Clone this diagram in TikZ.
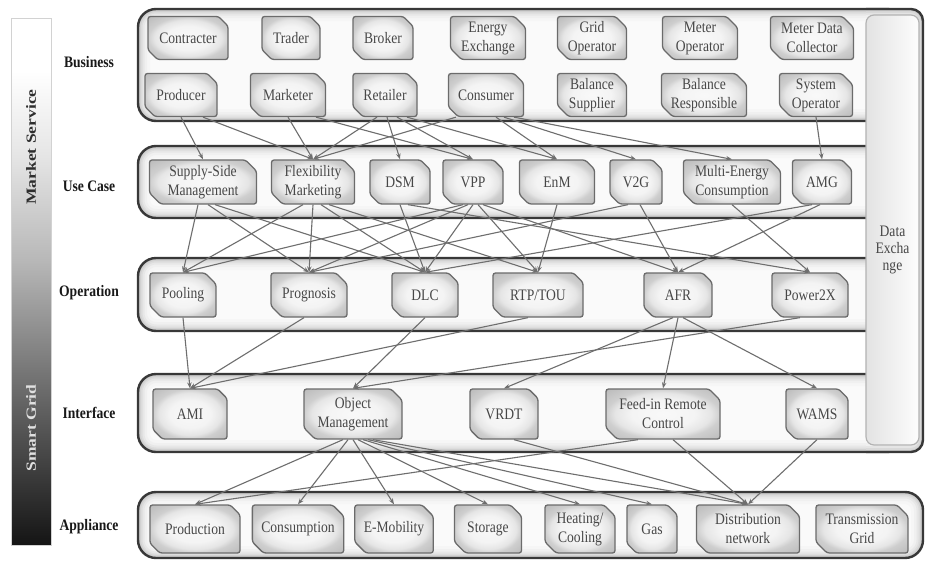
\documentclass[tikz,border=0pt]{standalone}
\usepackage{fontspec}
\setmainfont{Liberation Serif}[FakeStretch=0.85]
\newfontfamily\barfont{Liberation Serif}[FakeStretch=1.25]
\usetikzlibrary{shapes.misc,arrows.meta,calc}
\definecolor{edgec}{HTML}{6E6E6E}
\pgfdeclareradialshading{boxsh}{\pgfpoint{0bp}{0bp}}{color(0bp)=(gray!5); color(14bp)=(gray!9); color(21bp)=(gray!20); color(25bp)=(gray!38); color(36bp)=(gray!55); color(50bp)=(gray!55)}
\pgfdeclareverticalshading{barsh}{100bp}{color(0bp)=(black!92); color(25bp)=(black!92); color(38bp)=(black!62); color(52bp)=(black!28); color(62bp)=(black!10); color(70bp)=(white); color(100bp)=(white)}
\newcommand\boxfont{\rmfamily\fontsize{16}{19}\selectfont}
\newcommand\drawband[4]{%
  \begin{scope}
    \clip[rounded corners=18pt] (#1,#2) rectangle (#3,#4);
    \fill[gray!4] (#1,#2) rectangle (#3,#4);
    \foreach \w/\c in {24/7,18/12,13/19,9/27,6/36,3/46}
      {\draw[line width=\w pt, gray!\c, rounded corners=18pt] (#1,#2) rectangle (#3,#4);}
  \end{scope}
  \draw[line width=2.4pt, black!78, rounded corners=18pt] (#1,#2) rectangle (#3,#4);
}
\tikzset{
  bx/.style={chamfered rectangle, chamfered rectangle corners={north east,south west},
    chamfered rectangle xsep=8pt, rounded corners=2.5pt, draw=black!58, line width=1.3pt,
    shade, shading=boxsh, text=black!72, font=\boxfont, align=center, inner sep=1pt},
  bb/.style={bx, minimum height=43pt},
  ub/.style={bx, minimum height=44pt},
  ob/.style={bx, minimum height=44pt},
  ib/.style={bx, minimum height=50pt},
  ab/.style={bx, minimum height=48pt},
  lay/.style={font=\rmfamily\bfseries\fontsize{16}{19}\selectfont, text=black!90},
  barlab/.style={font=\barfont\bfseries\fontsize{14}{16}\selectfont, rotate=90},
  arr/.style={draw=edgec, line width=1.1pt, -{Stealth[length=6pt,width=4.5pt]}}
}
\begin{document}
\begin{tikzpicture}[x=1pt,y=-1pt]
\useasboundingbox (0,0) rectangle (925,562);
\fill[white] (0,0) rectangle (925,562);
% left bar
\shade[shading=barsh, draw=gray!35, line width=0.5pt] (11,18) rectangle (51,545);
\node[barlab, text=black!82] (ms) at (31,147) {Market Service};
\node[barlab, text=white!88!black] (sg) at (31,428) {Smart Grid};
% bands
\drawband{138}{9}{905}{121}
\drawband{138}{146}{905}{218}
\drawband{138}{258}{905}{331}
\drawband{138}{374}{905}{452}
\drawband{138}{492}{923}{558}
% right column of frame
\begin{scope}
  \clip (866,9) -- (911,9) arc[start angle=90,end angle=0,radius=12pt] -- (923,440) arc[start angle=0,end angle=-90,radius=12pt] -- (866,452) -- cycle;
  \fill[gray!6] (860,5) rectangle (930,460);
  \foreach \w/\c in {18/12,12/20,8/30,4/44}
    {\draw[line width=\w pt, gray!\c] (866,9) -- (911,9) arc[start angle=90,end angle=0,radius=12pt] -- (923,440) arc[start angle=0,end angle=-90,radius=12pt] -- (866,452);}
\end{scope}
\draw[line width=2.4pt, black!78] (866,9) -- (911,9) arc[start angle=90,end angle=0,radius=12pt] -- (923,440) arc[start angle=0,end angle=-90,radius=12pt] -- (866,452);
\shadedraw[rounded corners=8pt, left color=gray!22, right color=gray!2, draw=gray!60, line width=1.2pt] (866,15) rectangle (919,445);
\node[font=\rmfamily\fontsize{16}{17}\selectfont, text=black!72, align=center] (de) at (892.5,250) {Data\\Excha\\nge};
% layer labels
\node[lay] (lbus) at (89,62) {Business};
\node[lay] (luc) at (89,186) {Use Case};
\node[lay] (lop) at (89,293) {Operation};
\node[lay] (lif) at (89,413) {Interface};
\node[lay] (lap) at (89,527) {Appliance};
% business
\node[bb, minimum width=80pt] (contr) at (188,38) {Contracter};
\node[bb, minimum width=58pt] (trader) at (291,38) {Trader};
\node[bb, minimum width=60pt] (broker) at (383,38) {Broker};
\node[bb, minimum width=75pt] (enex) at (488,38) {Energy\\Exchange};
\node[bb, minimum width=69pt] (gridop) at (592,38) {Grid\\Operator};
\node[bb, minimum width=75pt] (metop) at (700,38) {Meter\\Operator};
\node[bb, minimum width=83pt] (mdc) at (812,38) {Meter Data\\Collector};
\node[bb, minimum width=72pt] (prod) at (181,95) {Producer};
\node[bb, minimum width=75pt] (mark) at (288,95) {Marketer};
\node[bb, minimum width=64pt] (ret) at (385,95) {Retailer};
\node[bb, minimum width=75pt] (cons) at (486,95) {Consumer};
\node[bb, minimum width=69pt] (bsup) at (592,95) {Balance\\Supplier};
\node[bb, minimum width=85pt] (bresp) at (704,95) {Balance\\Responsible};
\node[bb, minimum width=73pt] (sysop) at (816,95) {System\\Operator};
% use case
\node[ub, minimum width=107pt] (supply) at (203,182) {Supply-Side\\Management};
\node[ub, minimum width=83pt] (flex) at (313,182) {Flexibility\\Marketing};
\node[ub, minimum width=60pt] (dsm) at (400,182) {DSM};
\node[ub, minimum width=60pt] (vpp) at (473,182) {VPP};
\node[ub, minimum width=75pt] (enm) at (557,182) {EnM};
\node[ub, minimum width=52pt] (v2g) at (636,182) {V2G};
\node[ub, minimum width=97pt] (multi) at (732,182) {Multi-Energy\\Consumption};
\node[ub, minimum width=59pt] (amg) at (822,182) {AMG};
% operation
\node[ob, minimum width=66pt] (pool) at (183,295) {Pooling};
\node[ob, minimum width=76pt] (prog) at (309,295) {Prognosis};
\node[ob, minimum width=66pt] (dlc) at (425,295) {DLC};
\node[ob, minimum width=90pt] (rtp) at (538,295) {RTP/TOU};
\node[ob, minimum width=68pt] (afr) at (678,295) {AFR};
\node[ob, minimum width=76pt] (power) at (810,295) {Power2X};
% interface
\node[ib, minimum width=74pt] (ami) at (190,414) {AMI};
\node[ib, minimum width=98pt] (objm) at (353,414) {Object\\Management};
\node[ib, minimum width=68pt] (vrdt) at (504,414) {VRDT};
\node[ib, minimum width=114pt] (feed) at (663,414) {Feed-in Remote\\Control};
\node[ib, minimum width=62pt] (wams) at (817,414) {WAMS};
% appliance
\node[ab, minimum width=90pt] (prodn) at (195,529) {Production};
\node[ab, minimum width=90pt] (consn) at (298,529) {Consumption};
\node[ab, minimum width=78pt] (emob) at (394,529) {E-Mobility};
\node[ab, minimum width=67pt] (stor) at (488,529) {Storage};
\node[ab, minimum width=70pt] (heat) at (580,529) {Heating/\\Cooling};
\node[ab, minimum width=50pt] (gas) at (652,529) {Gas};
\node[ab, minimum width=103pt] (dist) at (748,529) {Distribution\\network};
\node[ab, minimum width=92pt] (trans) at (862,529) {Transmission\\Grid};
% business -> use case
\draw[arr] ([xshift=0pt]prod.south) -- (supply.north);
\draw[arr] ([xshift=22pt]prod.south) -- (flex.north);
\draw[arr] ([xshift=0pt]mark.south) -- (flex.north);
\draw[arr] ([xshift=28pt]mark.south) -- (vpp.north);
\draw[arr] ([xshift=-8pt]ret.south) -- (flex.north);
\draw[arr] ([xshift=2pt]ret.south) -- (dsm.north);
\draw[arr] ([xshift=12pt]ret.south) -- (vpp.north);
\draw[arr] ([xshift=22pt]ret.south) -- (enm.north);
\draw[arr] ([xshift=-30pt]cons.south) -- (flex.north);
\draw[arr] ([xshift=10pt]cons.south) -- (enm.north);
\draw[arr] ([xshift=18pt]cons.south) -- (v2g.north);
\draw[arr] ([xshift=28pt]cons.south) -- (multi.north);
\draw[arr] (sysop.south) -- (amg.north);
% use case -> operation
\draw[arr] ([xshift=-5pt]supply.south) -- (pool.north);
\draw[arr] ([xshift=5pt]supply.south) -- (prog.north);
\draw[arr] ([xshift=12pt]supply.south) -- (dlc.north);
\draw[arr] ([xshift=-10pt]flex.south) -- (pool.north);
\draw[arr] ([xshift=0pt]flex.south) -- (prog.north);
\draw[arr] ([xshift=8pt]flex.south) -- (dlc.north);
\draw[arr] ([xshift=16pt]flex.south) -- (rtp.north);
\draw[arr] ([xshift=0pt]dsm.south) -- (dlc.north);
\draw[arr] ([xshift=8pt]dsm.south) -- (power.north);
\draw[arr] ([xshift=-10pt]vpp.south) -- (pool.north);
\draw[arr] ([xshift=-5pt]vpp.south) -- (prog.north);
\draw[arr] ([xshift=0pt]vpp.south) -- (dlc.north);
\draw[arr] ([xshift=5pt]vpp.south) -- (rtp.north);
\draw[arr] ([xshift=10pt]vpp.south) -- (afr.north);
\draw[arr] (enm.south) -- (rtp.north);
\draw[arr] ([xshift=-8pt]v2g.south) -- (prog.north);
\draw[arr] ([xshift=4pt]v2g.south) -- (afr.north);
\draw[arr] (multi.south) -- (power.north);
\draw[arr] ([xshift=-10pt]amg.south) -- (dlc.north);
\draw[arr] ([xshift=-2pt]amg.south) -- (afr.north);
% operation -> interface
\draw[arr] (pool.south) -- (ami.north);
\draw[arr] ([xshift=-5pt]prog.south) -- (ami.north);
\draw[arr] ([xshift=-10pt]rtp.south) -- (ami.north);
\draw[arr] (dlc.south) -- (objm.north);
\draw[arr] ([xshift=-10pt]power.south) -- (objm.north);
\draw[arr] ([xshift=-5pt]afr.south) -- (vrdt.north);
\draw[arr] (afr.south) -- (feed.north);
\draw[arr] ([xshift=5pt]afr.south) -- (wams.north);
% interface -> appliance
\draw[arr] ([xshift=-10pt]objm.south) -- (prodn.north);
\draw[arr] ([xshift=-5pt]objm.south) -- (consn.north);
\draw[arr] ([xshift=0pt]objm.south) -- (emob.north);
\draw[arr] ([xshift=5pt]objm.south) -- (stor.north);
\draw[arr] ([xshift=10pt]objm.south) -- (heat.north);
\draw[arr] ([xshift=15pt]objm.south) -- (gas.north);
\draw[arr] ([xshift=20pt]objm.south) -- (dist.north);
\draw[arr] ([xshift=10pt]vrdt.south) -- (dist.north);
\draw[arr] ([xshift=-25pt]feed.south) -- (prodn.north);
\draw[arr] ([xshift=10pt]feed.south) -- (dist.north);
\draw[arr] (wams.south) -- (dist.north);
\end{tikzpicture}
\end{document}
